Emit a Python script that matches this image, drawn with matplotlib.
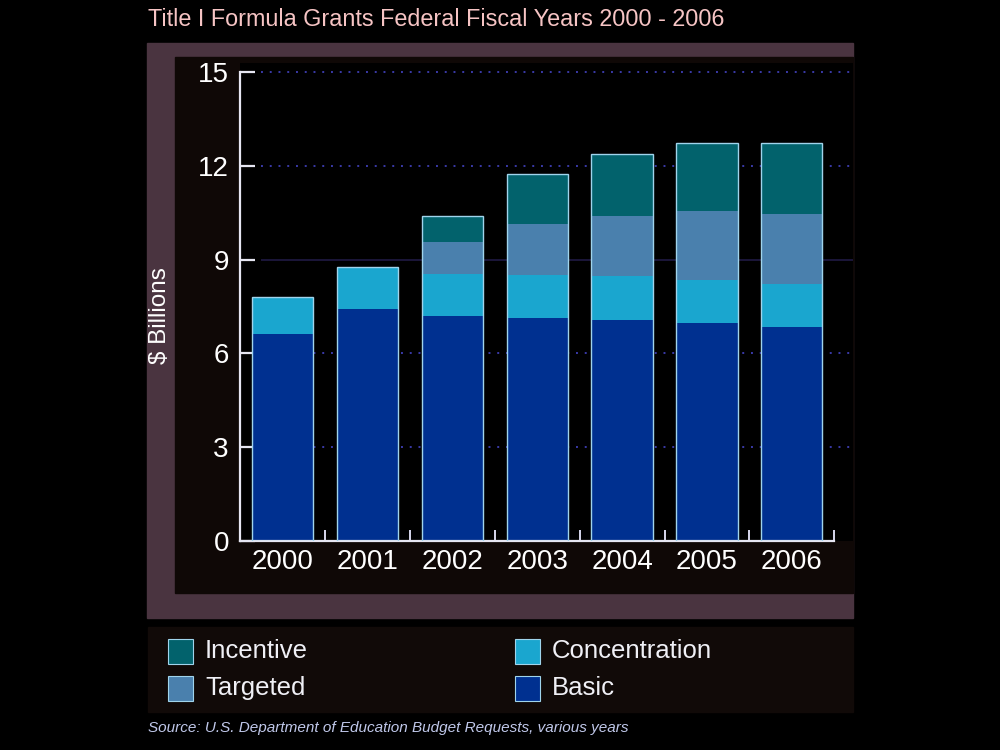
import matplotlib
matplotlib.use("Agg")
import matplotlib.pyplot as plt
from matplotlib.patches import Rectangle
import numpy as np

# data, $ billions
years = ["2000", "2001", "2002", "2003", "2004", "2005", "2006"]
basic = [6.61, 7.43, 7.21, 7.14, 7.06, 6.98, 6.85]
concentration = [1.19, 1.34, 1.34, 1.37, 1.41, 1.36, 1.37]
targeted = [0.0, 0.0, 1.00, 1.63, 1.93, 2.20, 2.24]
incentive = [0.0, 0.0, 0.83, 1.59, 1.97, 2.20, 2.27]
y_ticks = [0, 3, 6, 9, 12, 15]

colors = {
    "Basic": "#003090",
    "Concentration": "#1aa6cf",
    "Targeted": "#4a80ad",
    "Incentive": "#02626c",
}
stack = [("Basic", basic), ("Concentration", concentration),
         ("Targeted", targeted), ("Incentive", incentive)]

plt.rcParams["font.family"] = ["Liberation Sans", "DejaVu Sans"]

W, H = 1000, 750


def fx(x):
    return x / W


def fy(y):
    return 1 - y / H


fig = plt.figure(figsize=(10, 7.5), dpi=100, facecolor="black")

# background frame: maroon band on top/left/bottom, dark panel inside
fig.add_artist(Rectangle((fx(147), fy(618)), fx(853) - fx(147), (618 - 43) / H,
                         transform=fig.transFigure, color="#4a3440", zorder=0))
fig.add_artist(Rectangle((fx(175), fy(593)), fx(853) - fx(175), (593 - 57) / H,
                         transform=fig.transFigure, color="#0f0806", zorder=0))
# legend panel
fig.add_artist(Rectangle((fx(148), fy(712)), fx(853) - fx(148), (712 - 627) / H,
                         transform=fig.transFigure, color="#110a08", zorder=0))

ax = fig.add_axes([fx(240), fy(541), fx(853) - fx(240), (541 - 63) / H])
ax.set_facecolor("black")

x = np.arange(len(years))
width = 0.72

# gridlines behind the bars
for t in y_ticks[1:]:
    if t == 9:
        ax.hlines(t, -0.25, 6.72, colors="#221c4a", linewidth=1.1, zorder=0)
    else:
        ax.hlines(t, -0.25, 6.72, colors="#3a3aa8", linewidth=1.4,
                  linestyles=(0, (1, 3.5)), zorder=0)

bottom = np.zeros(len(years))
for name, vals in stack:
    vals = np.array(vals)
    ax.bar(x, vals, width, bottom=bottom, color=colors[name], linewidth=0, zorder=2)
    bottom += vals
ax.bar(x, bottom, width, fill=False, edgecolor="#a0d4ec", linewidth=1.0, zorder=3)

ax.set_xlim(-0.5, 6.72)
ax.set_ylim(0, 15.29)

for side in ["top", "right"]:
    ax.spines[side].set_visible(False)
for side in ["left", "bottom"]:
    ax.spines[side].set_color("#e6e6f2")
    ax.spines[side].set_linewidth(1.6)
ax.spines["left"].set_bounds(0, 15)
ax.spines["bottom"].set_bounds(-0.5, 6.5)

ax.set_yticks(y_ticks)
ax.set_yticklabels([str(t) for t in y_ticks])
ax.tick_params(axis="y", direction="in", length=11, width=1.6, color="#e6e6f2",
               labelcolor="white", labelsize=20, pad=8)

ax.set_xticks(x)
ax.set_xticklabels(years)
ax.set_xticks(x + 0.5, minor=True)
ax.tick_params(axis="x", which="major", length=0, labelcolor="white",
               labelsize=20, pad=6)
ax.tick_params(axis="x", which="minor", direction="in", length=8, width=1.4,
               color="#d8d8ee")

fig.text(fx(160), fy(316), "$ Billions", rotation=90, color="white",
         fontsize=17.5, ha="center", va="center")

fig.text(fx(148), fy(20), "Title I Formula Grants Federal Fiscal Years 2000 - 2006",
         color="#f6c4c4", fontsize=16.8, ha="left", va="center")

# legend, two columns
legend_items = [("Incentive", 168, 651), ("Targeted", 168, 688),
                ("Concentration", 515, 651), ("Basic", 515, 688)]
for name, lx, ly in legend_items:
    fig.add_artist(Rectangle((fx(lx), fy(ly + 12.5)), 25 / W, 25 / H,
                             transform=fig.transFigure, facecolor=colors[name],
                             edgecolor="#a0d4ec", linewidth=0.8))
    fig.text(fx(lx + 37), fy(ly), name, color="#f0f0f6", fontsize=18.5,
             ha="left", va="center")

fig.text(fx(148), fy(728), "Source: U.S. Department of Education Budget Requests, various years",
         color="#c0c8ea", fontsize=11, style="italic", ha="left", va="center")

fig.savefig("out.png", dpi=100, facecolor="black")
